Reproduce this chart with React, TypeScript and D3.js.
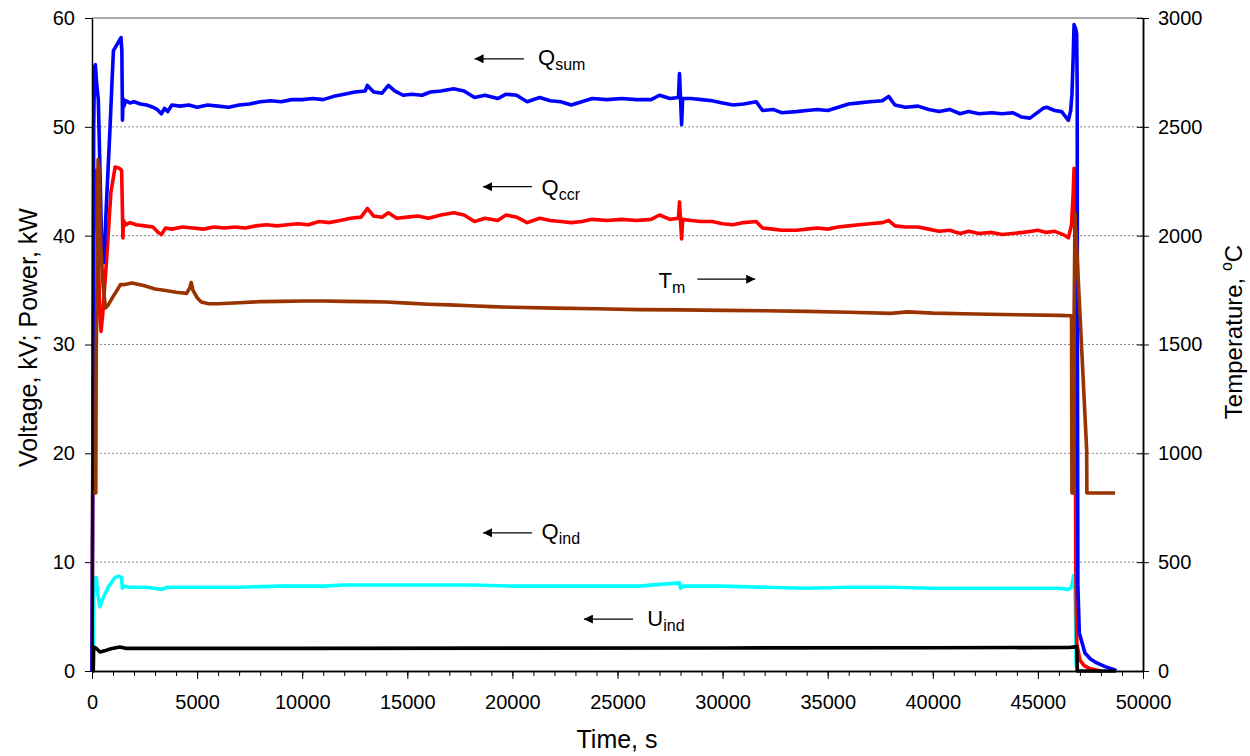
import React, { useEffect, useRef } from 'react';
import * as d3 from 'd3';

// time (s) vs value; power/voltage series in kW / kV, T_m in °C
const qSum: [number, number][] = [
  [0, 0], [40, 20], [80, 50], [120, 55.5], [160, 55.7], [220, 54], [300, 52.5], [380, 46], [470, 38],
  [540, 37.5], [620, 40], [700, 43.5], [860, 50], [960, 54.5], [1020, 57], [1200, 57.6], [1380, 58.2],
  [1420, 57], [1450, 50.6], [1480, 52.6], [1520, 51.9], [1600, 52.4], [1800, 52.2], [2000, 52.3],
  [2300, 52.1], [2600, 52.0], [2900, 51.8], [3100, 51.6], [3300, 51.2], [3450, 51.7], [3600, 51.4],
  [3800, 52.0], [4200, 51.9], [4600, 52.0], [5000, 51.8], [5500, 52.0], [6000, 51.9], [6500, 51.8],
  [7000, 52.0], [7500, 52.1], [8000, 52.3], [8500, 52.4], [9000, 52.3], [9500, 52.5], [10000, 52.5],
  [10500, 52.6], [11000, 52.5], [11500, 52.8], [12000, 53.0], [12500, 53.2], [13000, 53.3], [13100, 53.8],
  [13400, 53.2], [13800, 53.1], [14100, 53.8], [14400, 53.3], [14800, 52.9], [15200, 53.0], [15700, 52.9],
  [16100, 53.2], [16600, 53.3], [17200, 53.5], [17700, 53.3], [18200, 52.7], [18700, 52.9], [19300, 52.6],
  [19700, 53.0], [20200, 52.9], [20700, 52.3], [21300, 52.7], [21800, 52.4], [22300, 52.3], [22800, 52.0],
  [23300, 52.3], [23800, 52.6], [24500, 52.5], [25200, 52.6], [25900, 52.5], [26600, 52.5], [27000, 52.9],
  [27500, 52.6], [27900, 52.7], [27950, 54.9], [28000, 52.5], [28050, 50.2], [28100, 52.6], [28500, 52.6],
  [29000, 52.5], [29500, 52.4], [30000, 52.2], [30500, 52.0], [31000, 52.1], [31600, 52.3], [31900, 51.5],
  [32400, 51.6], [32800, 51.3], [33500, 51.4], [34000, 51.5], [34500, 51.6], [35000, 51.5], [35500, 51.8],
  [36000, 52.1], [36500, 52.2], [37000, 52.3], [37600, 52.4], [37900, 52.8], [38200, 52.0], [38700, 51.8],
  [39300, 51.9], [39800, 51.6], [40300, 51.4], [40800, 51.6], [41300, 51.2], [41700, 51.4], [42200, 51.2],
  [42800, 51.3], [43300, 51.2], [43800, 51.3], [44230, 50.9], [44620, 50.8], [45250, 51.7], [45420, 51.8],
  [45800, 51.5], [46130, 51.4], [46450, 50.6], [46560, 51.5], [46620, 53.0], [46680, 56.5], [46720, 59.4],
  [46800, 59.0], [46845, 58.5], [46870, 53.4], [46880, 30], [46900, 8], [46970, 3.5], [47240, 1.65],
  [47500, 1.1], [47800, 0.74], [48200, 0.4], [48670, 0.1], [48700, 0],
];

const qCcr: [number, number][] = [
  [0, 0], [50, 25], [100, 44], [160, 46], [220, 44], [300, 38], [380, 32.5], [430, 31.2], [520, 33],
  [700, 38], [900, 44], [1100, 46.3], [1300, 46.2], [1410, 46.0], [1450, 42], [1470, 39.8], [1500, 41.4],
  [1600, 41.0], [1800, 41.2], [2100, 41.0], [2500, 40.9], [2900, 40.8], [3150, 40.3], [3300, 40.1],
  [3500, 40.7], [3800, 40.6], [4300, 40.8], [4800, 40.7], [5300, 40.6], [5800, 40.8], [6300, 40.7],
  [6800, 40.8], [7300, 40.7], [7800, 40.9], [8300, 41.0], [8800, 40.9], [9300, 41.0], [9800, 41.1],
  [10300, 41.0], [10800, 41.3], [11300, 41.2], [11800, 41.4], [12300, 41.6], [12800, 41.7], [13100, 42.5],
  [13400, 41.8], [13800, 41.7], [14100, 42.1], [14500, 41.6], [15000, 41.7], [15500, 41.8], [16000, 41.6],
  [16600, 41.9], [17200, 42.1], [17700, 41.9], [18200, 41.3], [18700, 41.6], [19300, 41.4], [19700, 41.9],
  [20200, 41.7], [20700, 41.2], [21300, 41.6], [21800, 41.4], [22300, 41.3], [22800, 41.2], [23300, 41.3],
  [23800, 41.5], [24500, 41.4], [25200, 41.5], [25900, 41.4], [26600, 41.5], [27000, 41.9], [27500, 41.5],
  [27900, 41.6], [27950, 43.1], [28000, 41.3], [28050, 39.7], [28100, 41.5], [28500, 41.4], [29000, 41.3],
  [29500, 41.3], [30000, 41.1], [30500, 41.0], [31000, 41.2], [31600, 41.3], [31900, 40.7], [32400, 40.6],
  [32800, 40.5], [33500, 40.5], [34000, 40.6], [34500, 40.7], [35000, 40.6], [35500, 40.8], [36000, 40.9],
  [36500, 41.0], [37000, 41.1], [37600, 41.2], [37900, 41.4], [38200, 40.9], [38700, 40.8], [39300, 40.8],
  [39800, 40.6], [40300, 40.4], [40800, 40.5], [41300, 40.2], [41700, 40.4], [42200, 40.2], [42800, 40.3],
  [43300, 40.1], [43800, 40.2], [44300, 40.3], [44700, 40.4], [45000, 40.5], [45400, 40.3], [45800, 40.4],
  [46200, 40.1], [46450, 39.8], [46600, 41.0], [46680, 44], [46720, 46.2], [46760, 40], [46800, 10],
  [46850, 2.5], [47000, 1.0], [47200, 0.5], [47500, 0.2], [48000, 0],
];

const qInd: [number, number][] = [
  [50, 0], [90, 8.3], [200, 8.6], [280, 7], [380, 5.9], [500, 6.6], [800, 7.8], [1100, 8.6], [1250, 8.7],
  [1400, 8.6], [1450, 7.6], [1500, 7.8], [1800, 7.7], [2500, 7.7], [3000, 7.6], [3300, 7.5], [3600, 7.7],
  [5000, 7.7], [7000, 7.7], [9000, 7.8], [11000, 7.8], [12000, 7.9], [14000, 7.9], [16000, 7.9],
  [18000, 7.9], [20000, 7.8], [22000, 7.8], [24000, 7.8], [26000, 7.8], [27950, 8.1], [28000, 7.6],
  [28100, 7.8], [30000, 7.8], [32000, 7.7], [34000, 7.6], [36000, 7.7], [38000, 7.7], [40000, 7.6],
  [42000, 7.6], [44000, 7.6], [46000, 7.6], [46450, 7.5], [46600, 7.7], [46700, 8.8], [46760, 8.5],
  [46820, 0.5], [46900, 0],
];

const uInd: [number, number][] = [
  [0, 0], [60, 0], [80, 2.2], [200, 2.1], [380, 1.75], [600, 1.85], [900, 2.05], [1330, 2.2],
  [1600, 2.08], [5000, 2.08], [10000, 2.08], [20000, 2.1], [30000, 2.12], [40000, 2.14], [46500, 2.16],
  [46850, 2.25], [46875, 0], [48700, 0],
];

const tMelt: [number, number][] = [
  [0, 818], [180, 818], [200, 1450], [240, 1800], [290, 2350], [340, 2300], [420, 1950], [520, 1780],
  [640, 1668], [760, 1680], [1000, 1720], [1200, 1750], [1350, 1775], [1500, 1775], [1900, 1783],
  [2500, 1770], [3000, 1755], [3500, 1748], [4000, 1740], [4500, 1735], [4650, 1760], [4720, 1785],
  [4800, 1750], [5000, 1715], [5200, 1695], [5500, 1688], [6000, 1687], [7000, 1692], [8000, 1697],
  [9000, 1698], [10000, 1700], [11000, 1700], [12000, 1698], [13000, 1697], [14000, 1695], [15000, 1690],
  [16000, 1685], [17000, 1682], [18000, 1678], [19000, 1674], [20000, 1671], [22000, 1667], [24000, 1664],
  [26000, 1660], [28000, 1659], [30000, 1657], [32000, 1655], [34000, 1652], [36000, 1648], [38000, 1643],
  [38800, 1650], [40000, 1644], [42000, 1640], [44000, 1637], [46000, 1634], [46600, 1632], [46620, 818],
  [46700, 818], [46720, 1600], [46765, 2104], [47320, 1016], [47330, 818], [48670, 818],
];

const xTicks = d3.range(0, 50001, 5000);
const xMinorTicks = d3.range(0, 50001, 1000);
const yLeftTicks = d3.range(0, 61, 10);
const yRightTicks = d3.range(0, 3001, 500);

// label: [main, sub, text t, text value, arrow from t, arrow to t, arrow value]
const labels: [string, string, number, number, number, number, number][] = [
  ['Q', 'sum', 21220, 55.7, 20550, 18200, 56.25],
  ['Q', 'ccr', 21390, 43.75, 20930, 18600, 44.5],
  ['T', 'm', 26950, 35.2, 28800, 31550, 36.0],
  ['Q', 'ind', 21390, 12.1, 20930, 18600, 12.7],
  ['U', 'ind', 26420, 4.1, 25740, 23400, 4.77],
];

const FONT = 'Liberation Sans, Arial, sans-serif';

function App() {
  const svgRef = useRef<SVGSVGElement>(null);

  useEffect(() => {
    const width = 1250;
    const height = 756;
    const left = 92, right = 1143, top = 18, bottom = 671;

    const svg = d3.select(svgRef.current).attr('width', width).attr('height', height);
    svg.selectAll('*').remove();

    const x = d3.scaleLinear().domain([0, 50000]).range([left, right]);
    const yL = d3.scaleLinear().domain([0, 60]).range([bottom, top]);
    const yR = d3.scaleLinear().domain([0, 3000]).range([bottom, top]);
    const fmt = d3.format('d');

    svg.append('defs').append('marker')
      .attr('id', 'arrowhead')
      .attr('viewBox', '0 0 10 10')
      .attr('refX', 10).attr('refY', 5)
      .attr('markerWidth', 9).attr('markerHeight', 9)
      .attr('markerUnits', 'userSpaceOnUse')
      .attr('orient', 'auto')
      .append('path')
      .attr('d', 'M0,0 L10,5 L0,10 Z')
      .attr('fill', '#000');

    // gridlines
    svg.append('g').selectAll('line')
      .data(yLeftTicks.filter(d => d > 0 && d < 60))
      .enter().append('line')
      .attr('x1', left).attr('x2', right)
      .attr('y1', d => yL(d)).attr('y2', d => yL(d))
      .attr('stroke', '#8c8c8c').attr('stroke-width', 1)
      .attr('stroke-dasharray', '2,2');

    svg.append('line')
      .attr('x1', left).attr('x2', right)
      .attr('y1', yL(60)).attr('y2', yL(60))
      .attr('stroke', '#8c8c8c').attr('stroke-width', 1.5);

    // series
    const lineL = d3.line<[number, number]>().x(d => x(d[0])).y(d => yL(d[1]));
    const lineR = d3.line<[number, number]>().x(d => x(d[0])).y(d => yR(d[1]));
    const series: [[number, number][], string, boolean][] = [
      [qInd, '#00ffff', false],
      [qCcr, '#ff0000', false],
      [qSum, '#0000ff', false],
      [tMelt, '#993300', true],
      [uInd, '#000000', false],
    ];
    series.forEach(([data, color, onRight]) => {
      svg.append('path')
        .datum(data)
        .attr('d', onRight ? lineR : lineL)
        .attr('fill', 'none')
        .attr('stroke', color)
        .attr('stroke-width', 3.6)
        .attr('stroke-linejoin', 'round');
    });

    // x axis
    svg.append('g').attr('transform', `translate(0,${bottom})`)
      .call(d3.axisBottom(x).tickValues(xMinorTicks).tickSize(5).tickSizeOuter(0).tickFormat(() => ''));
    const gxMajor = svg.append('g').attr('transform', `translate(0,${bottom})`)
      .call(d3.axisBottom(x).tickValues(xTicks).tickSize(8).tickSizeOuter(0).tickPadding(16).tickFormat(fmt));
    gxMajor.selectAll('text').attr('font-size', '20px').attr('font-family', FONT).attr('fill', '#000');
    svg.selectAll('.domain').attr('stroke', '#000').attr('stroke-width', 1.5);

    // left axis
    const gyl = svg.append('g').attr('transform', `translate(${left},0)`)
      .call(d3.axisLeft(yL).tickValues(yLeftTicks).tickSize(7).tickSizeOuter(0).tickPadding(10).tickFormat(fmt));
    gyl.selectAll('text').attr('font-size', '20px').attr('font-family', FONT).attr('fill', '#000');
    gyl.select('.domain').attr('stroke-width', 1.5);

    // right axis, ticks crossing the line
    svg.append('g').attr('transform', `translate(${right},0)`)
      .call(d3.axisLeft(yR).tickValues(yRightTicks).tickSize(6).tickSizeOuter(0).tickFormat(() => ''))
      .select('.domain').attr('stroke-width', 1.5);
    const gyr = svg.append('g').attr('transform', `translate(${right},0)`)
      .call(d3.axisRight(yR).tickValues(yRightTicks).tickSize(6).tickSizeOuter(0).tickPadding(9).tickFormat(fmt));
    gyr.selectAll('text').attr('font-size', '20px').attr('font-family', FONT).attr('fill', '#000');
    gyr.select('.domain').attr('stroke-width', 1.5);

    // axis titles
    svg.append('text')
      .attr('x', 617).attr('y', 748)
      .attr('text-anchor', 'middle')
      .attr('font-size', '25px').attr('font-family', FONT)
      .text('Time, s');

    svg.append('text')
      .attr('transform', `translate(37,${(top + bottom) / 2 - 7}) rotate(-90)`)
      .attr('text-anchor', 'middle')
      .attr('font-size', '25px').attr('font-family', FONT)
      .text('Voltage, kV; Power, kW');

    const rt = svg.append('text')
      .attr('transform', `translate(1242,332) rotate(-90)`)
      .attr('text-anchor', 'middle')
      .attr('font-size', '24px').attr('font-family', FONT);
    rt.append('tspan').text('Temperature, ');
    rt.append('tspan').attr('font-size', '16px').attr('dy', -10).text('o');
    rt.append('tspan').attr('dy', 10).text('C');

    // series annotations
    labels.forEach(([main, sub, tt, tv, a1, a2, av]) => {
      svg.append('line')
        .attr('x1', x(a1)).attr('x2', x(a2))
        .attr('y1', yL(av)).attr('y2', yL(av))
        .attr('stroke', '#000').attr('stroke-width', 1.2)
        .attr('marker-end', 'url(#arrowhead)');
      const t = svg.append('text')
        .attr('x', x(tt)).attr('y', yL(tv))
        .attr('font-size', '22px').attr('font-family', FONT);
      t.append('tspan').text(main);
      t.append('tspan').attr('font-size', '16px').attr('dy', 5).text(sub);
    });
  }, []);

  return (
    <div style={{ position: 'absolute', left: 0, top: 0 }}>
      <svg ref={svgRef} style={{ display: 'block', background: '#fff' }}></svg>
    </div>
  );
}

export default App;
